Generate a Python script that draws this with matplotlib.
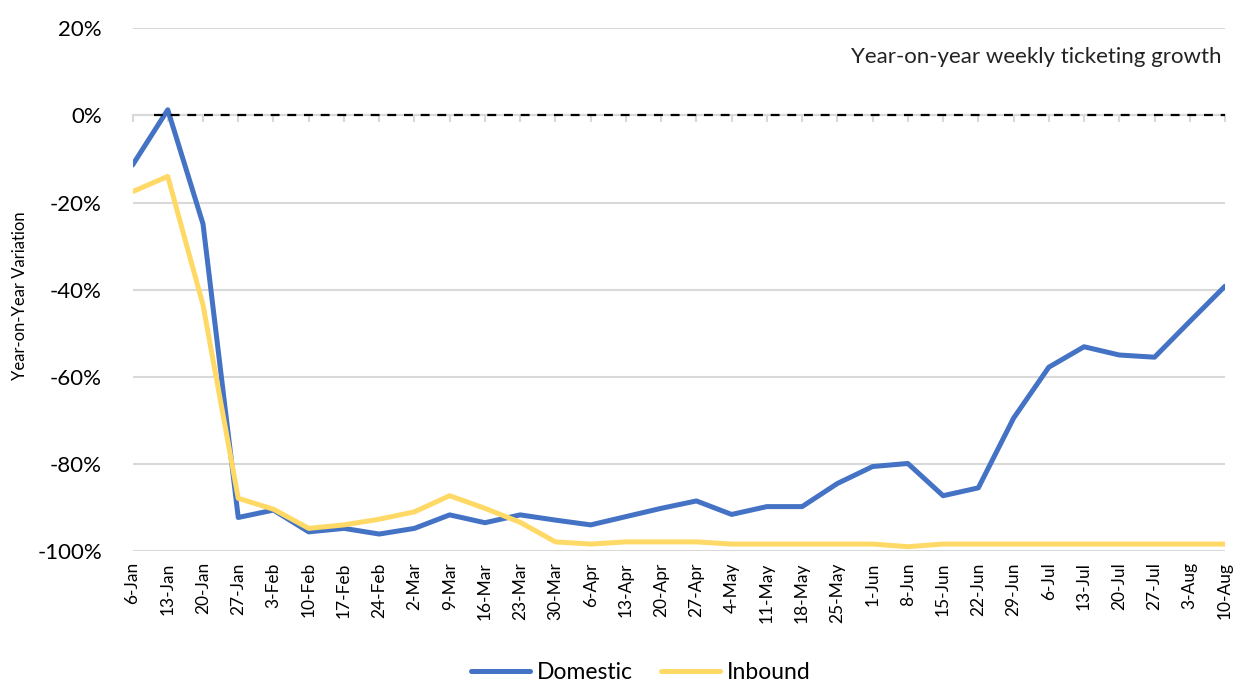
import numpy as np
import matplotlib
matplotlib.use("Agg")
import matplotlib.pyplot as plt
from matplotlib.ticker import FuncFormatter

plt.rcParams['font.family'] = ['Lato', 'DejaVu Sans']

weeks = ['6-Jan', '13-Jan', '20-Jan', '27-Jan', '3-Feb', '10-Feb', '17-Feb', '24-Feb',
         '2-Mar', '9-Mar', '16-Mar', '23-Mar', '30-Mar', '6-Apr', '13-Apr', '20-Apr',
         '27-Apr', '4-May', '11-May', '18-May', '25-May', '1-Jun', '8-Jun', '15-Jun',
         '22-Jun', '29-Jun', '6-Jul', '13-Jul', '20-Jul', '27-Jul', '3-Aug', '10-Aug']

# weekly year-on-year change, %
domestic = [-11.4, 1.3, -24.9, -92.3, -90.6, -95.6, -94.8, -96.1,
            -94.8, -91.7, -93.5, -91.7, -92.9, -94.0, -92.1, -90.2,
            -88.5, -91.6, -89.8, -89.8, -84.5, -80.6, -79.9, -87.3,
            -85.5, -69.5, -57.8, -53.1, -55.0, -55.5, -47.3, -39.2]
inbound = [-17.5, -14.0, -43.5, -87.9, -90.4, -94.8, -94.0, -92.7,
           -91.0, -87.3, -90.2, -93.4, -97.9, -98.4, -97.9, -97.9,
           -97.9, -98.4, -98.4, -98.4, -98.4, -98.4, -99.0, -98.4,
           -98.4, -98.4, -98.4, -98.4, -98.4, -98.4, -98.4, -98.4]

blue = '#4472C4'
yellow = '#FFD966'
grid_col = '#D9D9D9'

x = np.arange(len(weeks))

fig = plt.figure(figsize=(12.49, 6.84), dpi=100)
ax = fig.add_axes([0.1061, 0.1944, 0.8747, 0.7642])

ax.set_xlim(0, len(weeks) - 1)
ax.set_ylim(-100, 20)
ax.set_yticks(np.arange(-100, 21, 20))
ax.yaxis.set_major_formatter(FuncFormatter(lambda v, p: '%d%%' % v))
ax.grid(axis='y', color=grid_col, linewidth=1.5)
ax.set_axisbelow(True)

for s in ['top', 'right', 'left']:
    ax.spines[s].set_visible(False)
ax.spines['bottom'].set_position(('data', 0))
ax.spines['bottom'].set_color(grid_col)
ax.spines['bottom'].set_linewidth(1.5)

ax.set_xticks(x)
ax.tick_params(axis='x', length=5, width=1.5, color=grid_col, labelbottom=False)
ax.tick_params(axis='y', length=0, pad=22, labelsize=16)

# category labels along the bottom edge
sec = ax.secondary_xaxis('bottom')
sec.set_xticks(x, weeks, rotation=90)
sec.tick_params(length=0, pad=8, labelsize=12.5)
sec.spines['bottom'].set_visible(False)

ax.plot(x, domestic, color=blue, linewidth=3.6, label='Domestic', solid_joinstyle='round',
        solid_capstyle='round', zorder=3)
ax.plot(x, inbound, color=yellow, linewidth=3.6, label='Inbound', solid_joinstyle='round',
        solid_capstyle='round', zorder=3)
ax.hlines(0, 0.6, len(weeks) - 1, colors='black', linewidth=1.6, linestyles=(0, (4, 3.5)), zorder=4)

ax.text(0.997, 0.945, 'Year-on-year weekly ticketing growth', transform=ax.transAxes,
        ha='right', va='center', fontsize=16, color='#222222')

fig.text(0.016, 0.567, 'Year-on-Year Variation', rotation=90, ha='center', va='center', fontsize=12)

fig.legend(loc='center', bbox_to_anchor=(0.513, 0.017), ncol=2, frameon=False, fontsize=16.5,
           handlelength=2.6, columnspacing=1.2, handletextpad=0.3)

fig.savefig('out.png', dpi=100)
